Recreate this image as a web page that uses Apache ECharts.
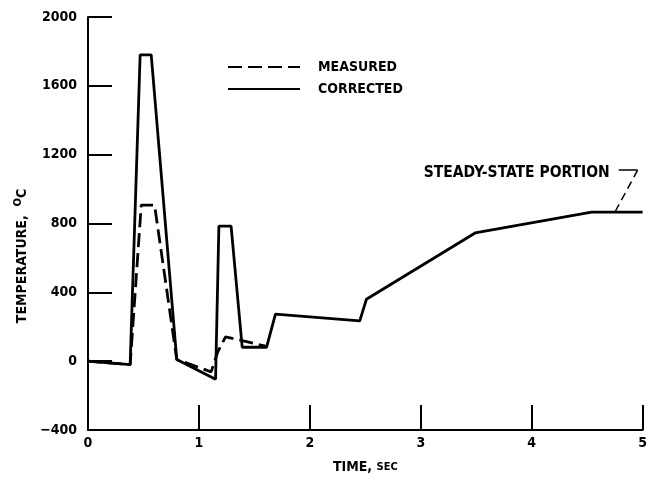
<!DOCTYPE html>
<html>
<head>
<meta charset="utf-8">
<script src="https://cdn.jsdelivr.net/npm/echarts/dist/echarts.min.js"></script>
<style>
  html, body { margin: 0; padding: 0; background: #fff; }
  #chart { width: 650px; height: 482px; }
</style>
</head>
<body>
<div id="chart"></div>
<script>
// Time in sec, temperature in deg C
const timeCorrected = [0, 0.38, 0.47, 0.57, 0.80, 1.15, 1.18, 1.29, 1.39, 1.61, 1.69, 2.45, 2.51, 3.49, 4.54, 5.00];
const tempCorrected = [0, -20, 1780, 1780, 10, -105, 785, 785, 81, 81, 273, 234, 360, 745, 866, 866];

const timeMeasured = [0, 0.38, 0.48, 0.60, 0.80, 1.11, 1.17, 1.24, 1.39, 1.60];
const tempMeasured = [0, -20, 907, 907, 10, -62, 54, 141, 120, 87];

const xTicks = [0, 1, 2, 3, 4, 5];
const yTicks = [-400, 0, 400, 800, 1200, 1600, 2000];

// leader for the "steady-state" note
const noteText = 'STEADY-STATE PORTION';
const noteBar = [[4.785, 1110], [4.955, 1110]];
const notePoint = [4.75, 866];

const FONT = '"DejaVu Sans Condensed", "DejaVu Sans", sans-serif';
const INK = '#000';

const zip = (xs, ys) => xs.map((x, i) => [x, ys[i]]);

const chart = echarts.init(document.getElementById('chart'), null, { renderer: 'canvas' });

chart.setOption({
  backgroundColor: '#fff',
  animation: false,
  grid: { left: 88, right: 4, top: 17, bottom: 52, containLabel: false },
  legend: {
    orient: 'vertical',
    left: 222, top: 55,
    itemWidth: 72, itemHeight: 14, itemGap: 8,
    selectedMode: false,
    itemStyle: { opacity: 0 },
    textStyle: { color: INK, fontFamily: FONT, fontWeight: 'bold', fontSize: 14, padding: [0, 0, 0, 13] },
    data: ['MEASURED', 'CORRECTED'],
  },
  xAxis: {
    type: 'value',
    min: xTicks[0], max: xTicks[xTicks.length - 1], interval: 1,
    name: '{a|TIME, }{b|SEC}',
    nameLocation: 'middle', nameGap: 30,
    nameTextStyle: {
      rich: {
        a: { fontFamily: FONT, fontWeight: 'bold', fontSize: 14, color: INK },
        b: { fontFamily: FONT, fontWeight: 'bold', fontSize: 11, color: INK },
      },
    },
    axisLine: { show: true, onZero: false, lineStyle: { color: INK, width: 2 } },
    axisTick: { show: true, inside: true, length: 25, lineStyle: { color: INK, width: 2 } },
    axisLabel: { color: INK, fontFamily: FONT, fontWeight: 'bold', fontSize: 14, margin: 6 },
    splitLine: { show: false },
  },
  yAxis: {
    type: 'value',
    min: yTicks[0], max: yTicks[yTicks.length - 1], interval: 400,
    axisLine: { show: true, onZero: false, lineStyle: { color: INK, width: 2 } },
    axisTick: { show: true, inside: true, length: 24, lineStyle: { color: INK, width: 2 } },
    axisLabel: {
      color: INK, fontFamily: FONT, fontWeight: 'bold', fontSize: 14, margin: 11,
      formatter: v => (v < 0 ? '\u2212' + Math.abs(v) : String(v)),
    },
    splitLine: { show: false },
  },
  graphic: [{
    type: 'text',
    x: 22, y: 256,
    rotation: Math.PI / 2,
    style: {
      text: '{a|TEMPERATURE,  }{s|O}{a|C}',
      align: 'center', verticalAlign: 'middle',
      rich: {
        a: { fontFamily: FONT, fontWeight: 'bold', fontSize: 14, fill: INK },
        s: { fontFamily: FONT, fontWeight: 'bold', fontSize: 11, fill: INK, verticalAlign: 'top', padding: [0, 0, 8, 0] },
      },
    },
  }],
  series: [
    {
      name: 'MEASURED',
      type: 'line',
      data: zip(timeMeasured, tempMeasured),
      showSymbol: false, symbol: 'none',
      lineStyle: { color: INK, width: 2.8, type: [14, 6] },
      itemStyle: { color: INK },
      emphasis: { disabled: true },
      z: 3,
    },
    {
      name: 'CORRECTED',
      type: 'line',
      data: zip(timeCorrected, tempCorrected),
      showSymbol: false, symbol: 'none',
      lineStyle: { color: INK, width: 2.8 },
      itemStyle: { color: INK },
      emphasis: { disabled: true },
      z: 2,
      markLine: {
        silent: true, symbol: 'none',
        label: { show: false },
        lineStyle: { color: INK, width: 1.5, type: 'solid' },
        data: [
          [{ coord: noteBar[0] }, { coord: noteBar[1] }],
          [{ coord: noteBar[1], lineStyle: { type: [8, 5] } }, { coord: notePoint }],
        ],
      },
      markPoint: {
        silent: true,
        symbol: 'circle', symbolSize: 0,
        label: {
          show: true, position: 'left', distance: 9,
          color: INK, fontFamily: FONT, fontWeight: 'bold', fontSize: 15.5,
          formatter: noteText,
        },
        data: [{ coord: [noteBar[0][0], 1095] }],
      },
    },
  ],
});
</script>
</body>
</html>
